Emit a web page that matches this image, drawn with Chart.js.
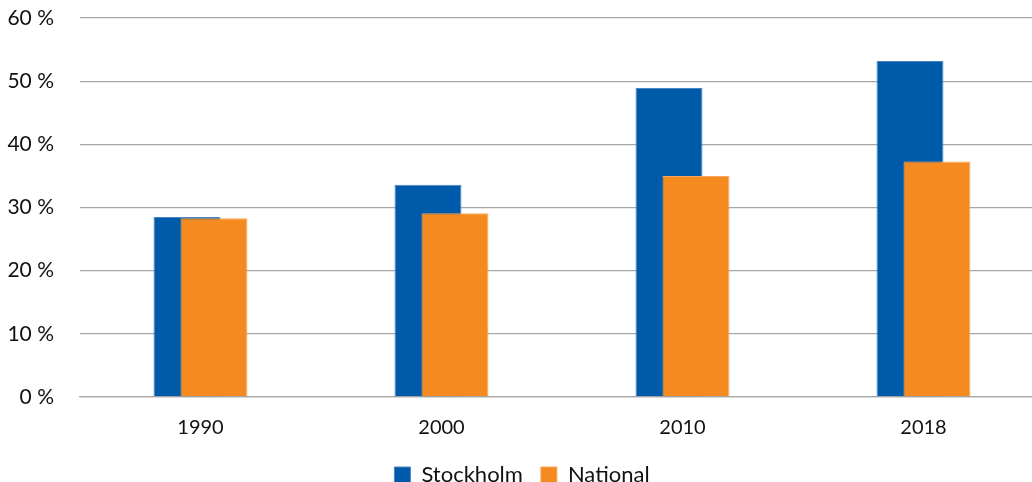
<!DOCTYPE html>
<html>
<head>
<meta charset="utf-8">
<script src="https://cdn.jsdelivr.net/npm/chart.js@4/dist/chart.umd.min.js"></script>
<style>
  html, body { margin: 0; padding: 0; background: #fff; overflow: hidden; }
  #wrap { width: 1044px; height: 482px; }
</style>
</head>
<body>
<div id="wrap"><canvas id="c" width="1044" height="482"></canvas></div>
<script>
const categories = ["1990", "2000", "2010", "2018"];
const stockholm = [28.5, 33.6, 48.9, 53.2];
const national = [28.3, 29.1, 35.0, 37.3];
const yTicks = [0, 10, 20, 30, 40, 50, 60];

const FONT = "Lato, 'Noto Sans', sans-serif";

// draw datasets in index order so the later series overlaps the earlier one
const drawInIndexOrder = {
  id: 'drawInIndexOrder',
  beforeDatasetsDraw(chart) {
    const n = chart.data.datasets.length;
    for (let i = 0; i < n; i++) {
      const meta = chart.getDatasetMeta(i);
      if (!meta.visible) continue;
      if (typeof chart._drawDataset === 'function') chart._drawDataset(meta);
      else meta.controller.draw();
    }
    return false;
  }
};

new Chart(document.getElementById('c'), {
  type: 'bar',
  data: {
    labels: categories,
    datasets: [
      { label: 'Stockholm', data: stockholm, backgroundColor: '#005AAA', borderColor: '#4a86c4', borderWidth: 1 },
      { label: 'National', data: national, backgroundColor: '#F58B20', borderColor: '#f8a85a', borderWidth: 1 }
    ]
  },
  plugins: [drawInIndexOrder],
  options: {
    responsive: false,
    animation: false,
    devicePixelRatio: 1,
    categoryPercentage: 0.2241,
    barPercentage: 2.48,
    layout: { padding: { top: 18, right: 0, left: 0, bottom: -14 } },
    plugins: {
      tooltip: { enabled: false },
      legend: {
        position: 'bottom',
        labels: {
          boxWidth: 16, boxHeight: 16, padding: 18,
          color: '#111',
          font: { family: FONT, size: 22 }
        }
      }
    },
    scales: {
      x: {
        afterFit: s => { s.height = 49; s.paddingLeft = 0; s.paddingRight = 0; },
        grid: { display: false },
        border: { display: true, color: '#a6a6a6', width: 1.3 },
        ticks: { color: '#111', font: { family: FONT, size: 20 }, padding: 11 }
      },
      y: {
        min: 0, max: 60,
        afterBuildTicks: s => { s.ticks = yTicks.map(v => ({ value: v })); },
        afterFit: s => { s.width = 80; s.paddingTop = 0; s.paddingBottom = 0; },
        grid: { color: '#a6a6a6', lineWidth: 1.3, drawTicks: false },
        border: { display: false },
        ticks: {
          color: '#111', font: { family: FONT, size: 21 }, padding: 26,
          callback: v => v + ' %'
        }
      }
    }
  }
});
</script>
</body>
</html>
